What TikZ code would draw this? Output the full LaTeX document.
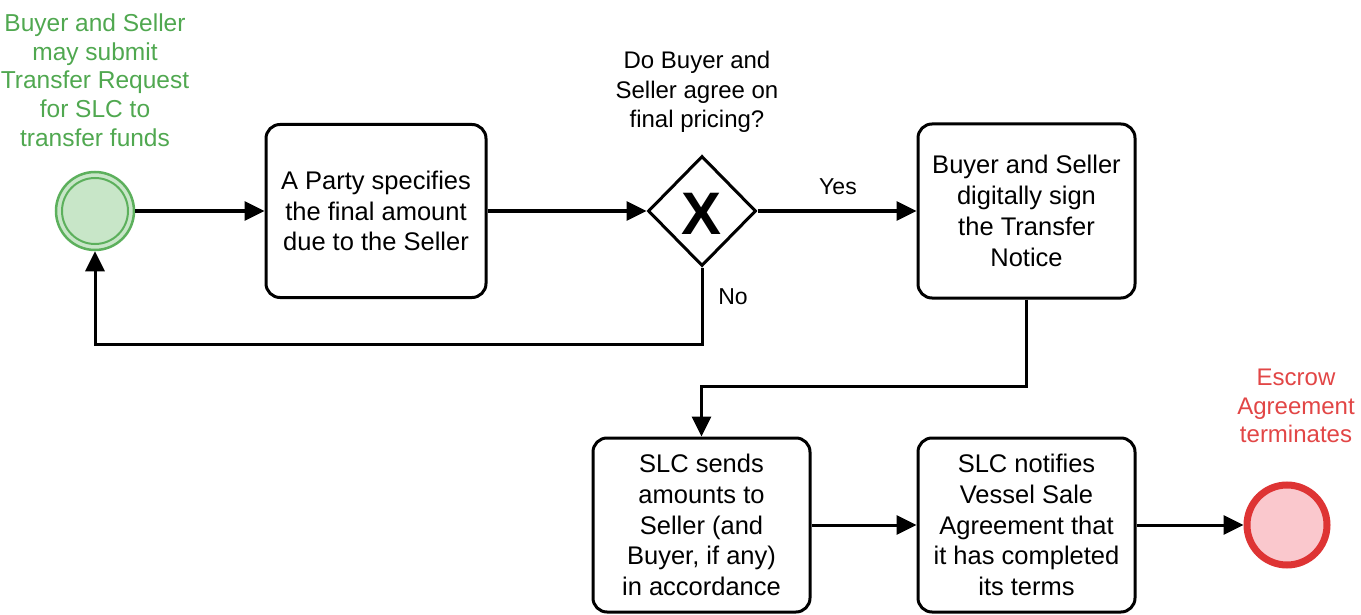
\documentclass[tikz,border=0pt]{standalone}
\usepackage{fontspec}
\setmainfont{Liberation Sans}
\usetikzlibrary{shapes.geometric,arrows.meta}
\definecolor{startline}{RGB}{92,176,92}
\definecolor{startfill}{RGB}{200,230,200}
\definecolor{starttext}{RGB}{80,168,80}
\definecolor{endline}{RGB}{222,52,52}
\definecolor{endfill}{RGB}{250,200,205}
\definecolor{endtext}{RGB}{226,70,70}
\tikzset{
  task/.style={draw=black, line width=3pt, rounded corners=14pt, fill=white,
    align=center, font=\fontsize{25.5}{30.8}\selectfont, inner sep=0pt},
  flow/.style={draw=black, line width=3pt,
    -{Triangle[length=20pt,width=19pt]}},
  lbl/.style={font=\fontsize{24}{29.5}\selectfont, align=center, inner sep=0pt},
}
\begin{document}
\begin{tikzpicture}[x=1pt,y=-1pt]
\useasboundingbox (0,0) rectangle (1361,615);
\fill[white] (0,0) rectangle (1361,615);

% start event
\node[circle, draw=startline, fill=startfill, line width=2.5pt, minimum size=78pt, inner sep=0pt] (start) at (95,211) {};
\draw[startline, line width=2pt] (start.center) circle (33pt);
\node[lbl, text=starttext, font=\fontsize{24.5}{28.7}\selectfont] (starttxt) at (95,80)
  {Buyer and Seller\\may submit\\Transfer Request\\for SLC to\\transfer funds};

% tasks
\node[task, minimum width=220pt, minimum height=173pt] (t1) at (376,211)
  {A Party specifies\\the final amount\\due to the Seller};
\node[task, minimum width=217pt, minimum height=174pt] (t2) at (1026.5,211)
  {Buyer and Seller\\digitally sign\\the Transfer\\Notice};
\node[task, minimum width=217pt, minimum height=174pt] (t3) at (701.5,525)
  {SLC sends\\amounts to\\Seller (and\\Buyer, if any)\\in accordance};
\node[task, minimum width=217pt, minimum height=174pt] (t4) at (1026.5,525)
  {SLC notifies\\Vessel Sale\\Agreement that\\it has completed\\its terms};

% exclusive gateway
\node[diamond, draw=black, line width=3pt, fill=white, minimum width=108pt, minimum height=110pt, inner sep=0pt] (gw) at (702,211) {};
\node[font=\fontsize{60}{60}\bfseries\selectfont, inner sep=0pt] (gwx) at (702,214) {X};
\node[lbl] (question) at (697,92) {Do Buyer and\\Seller agree on\\final pricing?};

% end event
\node[circle, draw=endline, fill=endfill, line width=7pt, minimum size=80pt, inner sep=0pt] (end) at (1287,525) {};
\node[lbl, text=endtext, font=\fontsize{24}{28.5}\selectfont] (endtxt) at (1296,406)
  {Escrow\\Agreement\\terminates};

% sequence flows
\draw[flow] (start.east) -- (t1.west);
\draw[flow] (t1.east) -- (gw.west);
\draw[flow] (gw.east) -- (t2.west);
\draw[flow] (gw.south) -- ++(0,77) coordinate (nocorner) -| (start.south);
\draw[flow] (t2.south) -- ++(0,87) -| (t3.north);
\draw[flow] (t3.east) -- (t4.west);
\draw[flow] (t4.east) -- (end.west);

% flow labels
\node[lbl, font=\fontsize{23}{23}\selectfont] (yes) at (838,187) {Yes};
\node[lbl, font=\fontsize{23}{23}\selectfont] (no) at (733,297) {No};
\end{tikzpicture}
\end{document}
